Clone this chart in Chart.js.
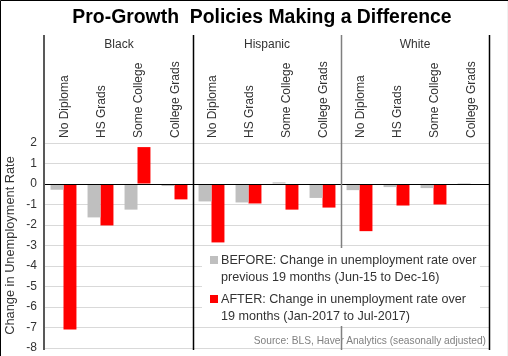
<!DOCTYPE html>
<html>
<head>
<meta charset="utf-8">
<script src="https://cdn.jsdelivr.net/npm/chart.js@4.4.1/dist/chart.umd.min.js"></script>
<style>
  html, body { margin: 0; padding: 0; background: #fff; }
  #wrap { position: relative; width: 508px; height: 356px; overflow: hidden; }
  canvas { position: absolute; left: 0; top: 0; }
  #legend { position: absolute; left: 202px; top: 248px; width: 278px; height: 78px; background: #fff;
            font-family: "Liberation Sans", Arial, sans-serif; font-size: 12.6px; color: #333; }
  .item { position: relative; padding-left: 19px; line-height: 16.7px; }
  .sw { position: absolute; left: 8px; top: 4px; width: 8px; height: 8px; }
  #source { position: absolute; right: 22px; top: 335px; font-family: "Liberation Sans", Arial, sans-serif;
            font-size: 10.2px; color: #808080; white-space: nowrap; }
</style>
</head>
<body>
<div id="wrap">
  <canvas id="c" width="508" height="356"></canvas>
  <div id="legend"></div>
  <div id="source"></div>
</div>
<script>
const groups = ['Black', 'Hispanic', 'White'];
const categories = ['No Diploma', 'HS Grads', 'Some College', 'College Grads',
                    'No Diploma', 'HS Grads', 'Some College', 'College Grads',
                    'No Diploma', 'HS Grads', 'Some College', 'College Grads'];
const beforeValues = [-0.28, -1.63, -1.25, -0.1, -0.85, -0.9, 0.08, -0.68, -0.3, -0.15, -0.2, 0.05];
const afterValues  = [-7.1, -2.02, 1.8, -0.75, -2.85, -0.95, -1.25, -1.15, -2.3, -1.05, -1.0, 0];
const beforeLabel = ['BEFORE: Change in unemployment rate over', 'previous 19 months (Jun-15 to Dec-16)'];
const afterLabel = ['AFTER: Change in unemployment rate over', '19 months (Jan-2017 to Jul-2017)'];
const titleText = 'Pro-Growth  Policies Making a Difference';
const yTitle = 'Change in Unemployment Rate';
const sourceText = 'Source: BLS, Haver Analytics (seasonally adjusted)';
const yTicks = [-8, -7, -6, -5, -4, -3, -2, -1, 0, 1, 2];

const GRAY = '#bfbfbf', RED = '#ff0000';
const FONT = '"Liberation Sans", Arial, sans-serif';

// legend + source as real text
const leg = document.getElementById('legend');
function addItem(lines, color, top) {
  const d = document.createElement('div');
  d.className = 'item';
  d.style.marginTop = top + 'px';
  const sw = document.createElement('span');
  sw.className = 'sw'; sw.style.background = color;
  d.appendChild(sw);
  lines.forEach((l, i) => { if (i) d.appendChild(document.createElement('br')); d.appendChild(document.createTextNode(l)); });
  leg.appendChild(d);
}
addItem(beforeLabel, GRAY, 4);
addItem(afterLabel, RED, 6);
document.getElementById('source').textContent = sourceText;

const decor = {
  id: 'decor',
  afterDatasetsDraw(chart) {
    const ctx = chart.ctx, x = chart.scales.x, y = chart.scales.y, a = chart.chartArea;
    const bnd = i => (x.getPixelForValue(i - 1) + x.getPixelForValue(i)) / 2;
    ctx.save();
    // title
    ctx.fillStyle = '#000'; ctx.font = 'bold 19.4px ' + FONT;
    ctx.textAlign = 'center'; ctx.textBaseline = 'middle';
    ctx.fillText(titleText, 262, 18);
    // zero line
    const y0 = Math.round(y.getPixelForValue(0)) + 0.5;
    ctx.strokeStyle = '#000'; ctx.lineWidth = 1;
    ctx.beginPath(); ctx.moveTo(a.left, y0); ctx.lineTo(a.right, y0); ctx.stroke();
    const top = 35, bot = a.bottom + 2;
    // left axis
    ctx.strokeStyle = '#595959'; ctx.lineWidth = 2;
    ctx.beginPath(); ctx.moveTo(a.left - 1, top); ctx.lineTo(a.left - 1, bot); ctx.stroke();
    // separators
    const seps = [[4, '#000'], [8, '#7f7f7f']];
    ctx.lineWidth = 1.5;
    seps.forEach(([i, col]) => {
      const px = Math.round(bnd(i)) + 0.5;
      ctx.strokeStyle = col;
      ctx.beginPath(); ctx.moveTo(px, top); ctx.lineTo(px, bot); ctx.stroke();
    });
    ctx.strokeStyle = '#000';
    ctx.beginPath(); ctx.moveTo(a.right + 0.5, top); ctx.lineTo(a.right + 0.5, bot); ctx.stroke();
    // group labels
    ctx.fillStyle = '#333'; ctx.font = '12px ' + FONT;
    ctx.textAlign = 'center'; ctx.textBaseline = 'middle';
    groups.forEach((g, gi) => {
      const l = gi === 0 ? a.left : bnd(gi * 4);
      const r = gi === groups.length - 1 ? a.right : bnd(gi * 4 + 4);
      ctx.fillText(g, (l + r) / 2, 45);
    });
    // category labels (rotated, reading upward)
    ctx.textAlign = 'left';
    categories.forEach((c, i) => {
      ctx.save();
      ctx.translate(x.getPixelForValue(i) + 1.5, a.top - 5);
      ctx.rotate(-Math.PI / 2);
      ctx.fillText(c, 0, 0);
      ctx.restore();
    });
    // frame
    ctx.strokeStyle = '#000'; ctx.lineWidth = 1;
    ctx.beginPath(); ctx.moveTo(0.5, 356); ctx.lineTo(0.5, 0.5); ctx.lineTo(508, 0.5); ctx.stroke();
    ctx.fillStyle = '#f0f0f0'; ctx.fillRect(507, 1, 1, 355);
    ctx.restore();
  }
};

new Chart(document.getElementById('c'), {
  type: 'bar',
  data: {
    labels: categories,
    datasets: [
      { label: beforeLabel.join(' '), data: beforeValues, backgroundColor: GRAY, borderWidth: 0,
        categoryPercentage: 0.7, barPercentage: 1.0 },
      { label: afterLabel.join(' '), data: afterValues, backgroundColor: RED, borderWidth: 0,
        categoryPercentage: 0.7, barPercentage: 1.0 }
    ]
  },
  options: {
    responsive: false,
    animation: false,
    devicePixelRatio: 1,
    layout: { padding: { left: 0, right: 19, top: 35, bottom: 8 } },
    plugins: {
      legend: { display: false },
      tooltip: { enabled: false },
      title: { display: false }
    },
    scales: {
      x: {
        position: 'top',
        offset: true,
        grid: { display: false, drawTicks: false },
        border: { display: false },
        ticks: { display: false },
        afterFit(s) { s.height = 108; }
      },
      y: {
        min: -8, max: 2,
        afterBuildTicks(s) { s.ticks = yTicks.map(v => ({ value: v })); },
        grid: { color: '#d9d9d9', drawTicks: false, lineWidth: 1 },
        border: { display: false },
        ticks: { padding: 8, color: '#333', font: { family: FONT, size: 12 } },
        title: { display: true, text: yTitle, color: '#333', font: { family: FONT, size: 12.8 },
                 padding: { top: 3, bottom: 0 } },
        afterFit(s) { s.width = 45; s.paddingTop = 0; s.paddingBottom = 0; }
      }
    }
  },
  plugins: [decor]
});
</script>
</body>
</html>
